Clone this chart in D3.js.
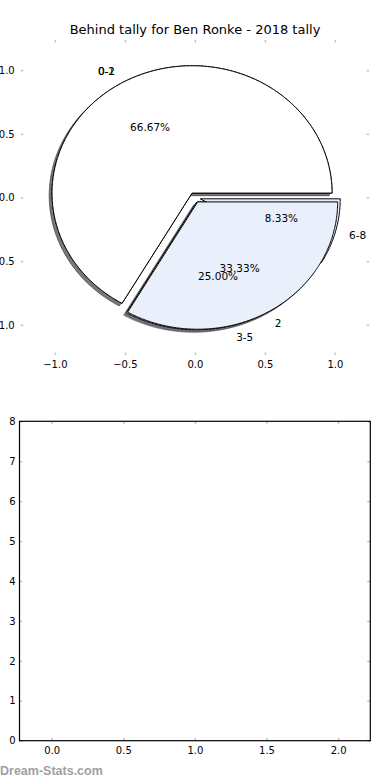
<!DOCTYPE html>
<html>
<head>
<meta charset="utf-8">
<script src="https://cdn.jsdelivr.net/npm/d3@7"></script>
<style>
	body{ margin:0; background:#fff; }
	svg{ display:block; font-family:"DejaVu Sans", sans-serif; }
</style>
</head>
<body>
<script>

// ### data ###
var titleText = "Behind tally for Ben Ronke - 2018 tally";
// pie drawn first (three bins)
var pieBLabels = ["0-2", "3-5", "6-8"];
var pieBValues = [8, 3, 1];
// pie drawn on top (two bins)
var pieALabels = ["0-1", "2"];
var pieAValues = [8, 4];
var pieTicks = [-1.0, -0.5, 0.0, 0.5, 1.0];
var barXTicks = [0.0, 0.5, 1.0, 1.5, 2.0];
var barYTicks = [0, 1, 2, 3, 4, 5, 6, 7, 8];

// ### layout ###
var W = 390, H = 780;
var explode = 0.04;
var wedgeColors = ["#ffffff", "#e9effb", "#e9effb"];
var tickColor = "#c4c4c4";

var svg = d3.select("body").append("svg")
	.attr("width", W)
	.attr("height", H);

svg.append("text")
	.attr("x", 195)
	.attr("y", 34)
	.attr("text-anchor", "middle")
	.style("font-size", "13px")
	.text(titleText);

//####################
//### pie axes ###
//####################
var px = d3.scaleLinear().domain([-1.244, 1.244]).range([20.7, 369]);
var py = d3.scaleLinear().domain([-1.237, 1.237]).range([355, 40]);

var fmt = d3.format(".1f");

var drawTicks = function(g, axis, transform){
	var a = g.append("g").attr("transform", transform).call(axis)
		.attr("font-family", "DejaVu Sans")
		.attr("font-size", 10);
	a.select(".domain").remove();
	a.selectAll(".tick line").attr("stroke", tickColor).attr("stroke-width", 1.5);
	a.selectAll(".tick text").attr("fill", "#000");
	return a;
};

var pieAxes = svg.append("g");
drawTicks(pieAxes, d3.axisBottom(px).tickValues(pieTicks).tickFormat(fmt).tickSize(-2.5).tickPadding(6), "translate(0,355)");
drawTicks(pieAxes, d3.axisTop(px).tickValues(pieTicks).tickFormat("").tickSize(-2.5), "translate(0,40)");
drawTicks(pieAxes, d3.axisLeft(py).tickValues(pieTicks).tickFormat(fmt).tickSize(-2.5).tickPadding(6), "translate(20.7,0)");
drawTicks(pieAxes, d3.axisRight(py).tickValues(pieTicks).tickFormat("").tickSize(-2.5), "translate(369,0)");

// builds wedge records in matplotlib convention (ccw from +x, start 0)
var makeWedges = function(values, labels){
	var arcs = d3.pie().sort(null).value(function(d){ return d; })(values);
	var total = d3.sum(values);
	return arcs.map(function(a, i){
		var t1 = a.startAngle, t2 = a.endAngle;	// radians, 0..2pi
		var mid = (t1 + t2) / 2;
		return {
			label: labels[i],
			pct: (100 * values[i] / total).toFixed(2) + "%",
			t1: t1, t2: t2, mid: mid,
			cx: explode * Math.cos(mid),
			cy: explode * Math.sin(mid),
			color: wedgeColors[i]
		};
	});
};

var wedgeLine = d3.line()
	.x(function(d){ return px(d[0]); })
	.y(function(d){ return py(d[1]); });

var wedgePath = function(w, ox, oy){
	var pts = [[w.cx + ox, w.cy + oy]];
	var n = Math.max(8, Math.round((w.t2 - w.t1) / 0.01));
	for(var k = 0; k <= n; k++){
		var t = w.t1 + (w.t2 - w.t1) * k / n;
		pts.push([w.cx + ox + Math.cos(t), w.cy + oy + Math.sin(t)]);
	}
	return wedgeLine(pts) + "Z";
};

var shade = function(c){
	var r = d3.rgb(c);
	return "rgba(" + Math.round(r.r*0.3) + "," + Math.round(r.g*0.3) + "," + Math.round(r.b*0.3) + ",0.5)";
};

var pies = [makeWedges(pieBValues, pieBLabels), makeWedges(pieAValues, pieALabels)];

// shadows under all wedges
pies.forEach(function(ws){
	pieAxes.append("g").selectAll("path").data(ws).enter().append("path")
		.attr("d", function(w){ return wedgePath(w, -0.02, -0.02); })
		.attr("fill", function(w){ return shade(w.color); })
		.attr("stroke", function(w){ return shade(w.color); })
		.attr("stroke-width", 1);
});

pies.forEach(function(ws){
	pieAxes.append("g").selectAll("path").data(ws).enter().append("path")
		.attr("d", function(w){ return wedgePath(w, 0, 0); })
		.attr("fill", function(w){ return w.color; })
		.attr("stroke", "#000")
		.attr("stroke-width", 1)
		.attr("stroke-linejoin", "miter");
});

// labels; an identical text at an identical spot is only drawn once
var placed = {};
var putText = function(g, x, y, anchor, s){
	var key = s + "@" + x.toFixed(1) + "," + y.toFixed(1);
	if(placed[key]) return;
	placed[key] = true;
	g.append("text")
		.attr("x", x).attr("y", y).attr("dy", "0.35em")
		.attr("text-anchor", anchor)
		.text(s);
};

pies.forEach(function(ws){
	var g = pieAxes.append("g").style("font-size", "10.5px");
	ws.forEach(function(w){
		var lx = w.cx + 1.1 * Math.cos(w.mid), ly = w.cy + 1.1 * Math.sin(w.mid);
		putText(g, px(lx), py(ly), lx > 0 ? "start" : "end", w.label);
		var tx = w.cx + 0.6 * Math.cos(w.mid), ty = w.cy + 0.6 * Math.sin(w.mid);
		putText(g, px(tx), py(ty), "middle", w.pct);
	});
});

//####################
//### empty bar axes ###
//####################
var bx = d3.scaleLinear().domain([-0.225, 2.225]).range([19.5, 370.3]);
var by = d3.scaleLinear().domain([0, 8]).range([740.7, 421.3]);

var barAxes = svg.append("g");
drawTicks(barAxes, d3.axisBottom(bx).tickValues(barXTicks).tickFormat(fmt).tickSize(-3).tickPadding(6), "translate(0,740.7)");
drawTicks(barAxes, d3.axisTop(bx).tickValues(barXTicks).tickFormat("").tickSize(-3), "translate(0,421.3)");
drawTicks(barAxes, d3.axisLeft(by).tickValues(barYTicks).tickFormat(d3.format("d")).tickSize(-3).tickPadding(4), "translate(19.5,0)");
drawTicks(barAxes, d3.axisRight(by).tickValues(barYTicks).tickFormat("").tickSize(-3), "translate(370.3,0)");

barAxes.append("rect")
	.attr("x", 19.5).attr("y", 421.3)
	.attr("width", 370.3 - 19.5).attr("height", 740.7 - 421.3)
	.attr("fill", "none")
	.attr("stroke", "#000")
	.attr("stroke-width", 1.2);

svg.append("text")
	.attr("x", 0)
	.attr("y", 775)
	.attr("fill", "#a0a0a0")
	.style("font-family", "'Liberation Sans', sans-serif")
	.style("font-size", "12.5px")
	.style("font-weight", "bold")
	.text("Dream-Stats.com");

</script>
</body>
</html>
